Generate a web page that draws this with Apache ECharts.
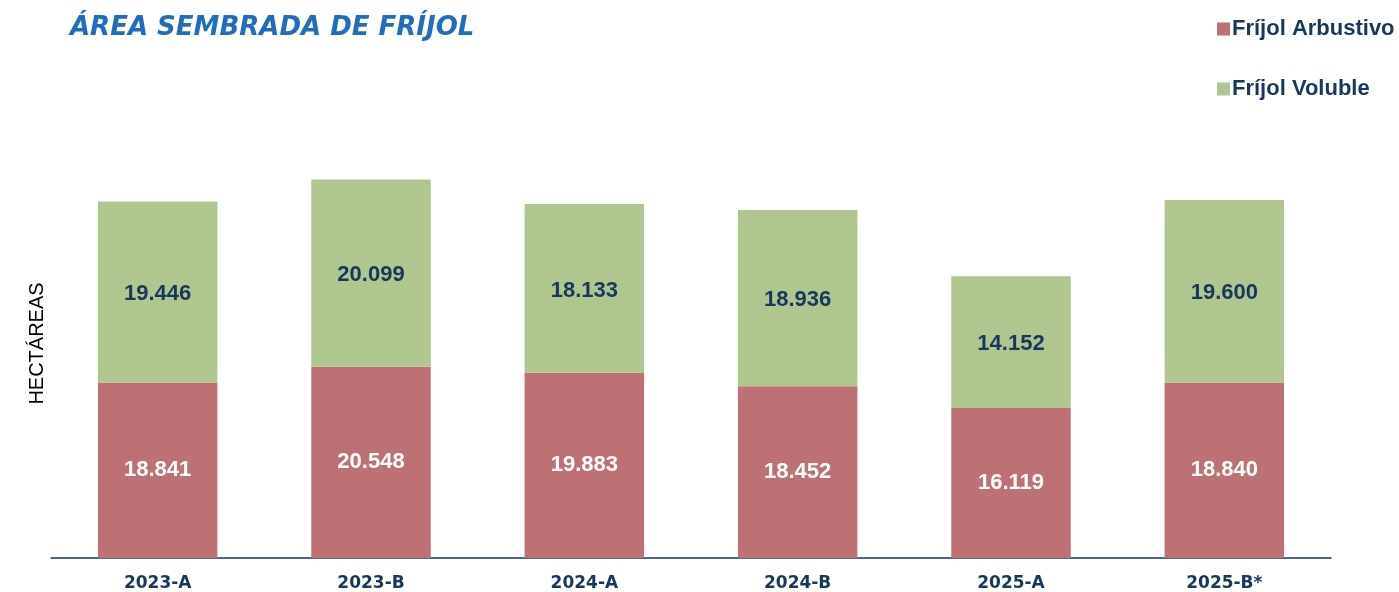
<!DOCTYPE html>
<html lang="es">
<head>
    <meta charset="UTF-8">
    <title>Área sembrada de fríjol</title>
    <script src="https://cdn.jsdelivr.net/npm/echarts@6/dist/echarts.min.js"></script>
    <style>
        html, body { margin: 0; padding: 0; background: #fff; }
        #main { width: 1399px; height: 592px; }
    </style>
</head>
<body>
<div id="main"></div>
<script>
    // datos
    var periodos = ['2023-A', '2023-B', '2024-A', '2024-B', '2025-A', '2025-B*'];
    var arbustivo = [18841, 20548, 19883, 18452, 16119, 18840];
    var voluble = [19446, 20099, 18133, 18936, 14152, 19600];

    var azulOscuro = '#17375E';

    // formato con punto de miles
    function miles(v) {
        return String(v).replace(/\B(?=(\d{3})+(?!\d))/g, '.');
    }

    var chart = echarts.init(document.getElementById('main'));
    var option = {
        animation: false,
        title: {
            text: 'ÁREA SEMBRADA DE FRÍJOL',
            left: 65,
            top: 10,
            textStyle: {
                fontFamily: 'DejaVu Sans',
                fontStyle: 'italic',
                fontWeight: 'bold',
                fontSize: 26,
                color: '#1F6DBF'
            }
        },
        legend: {
            orient: 'vertical',
            left: 1212,
            top: 13,
            itemWidth: 13,
            itemHeight: 13,
            itemGap: 38,
            icon: 'rect',
            textStyle: {
                fontFamily: 'Liberation Sans',
                fontWeight: 'bold',
                fontSize: 22,
                color: azulOscuro,
                padding: [0, 0, 0, -3]
            },
            data: ['Fríjol Arbustivo', 'Fríjol Voluble']
        },
        grid: {
            left: 51,
            right: 68,
            top: 139,
            bottom: 34
        },
        xAxis: {
            type: 'category',
            data: periodos,
            axisLine: { lineStyle: { color: azulOscuro, width: 1.5 } },
            axisTick: { show: false },
            axisLabel: {
                margin: 17,
                fontFamily: 'DejaVu Sans',
                fontWeight: 'bold',
                fontSize: 17,
                color: azulOscuro
            }
        },
        yAxis: {
            type: 'value',
            min: 0,
            max: 45000,
            name: 'HECTÁREAS',
            nameLocation: 'middle',
            nameRotate: 90,
            nameGap: 4,
            nameTextStyle: {
                fontFamily: 'Liberation Sans',
                fontSize: 20,
                color: '#000',
                padding: [0, 0, 0, 10]
            },
            axisLine: { show: false },
            axisTick: { show: false },
            axisLabel: { show: false },
            splitLine: { show: false }
        },
        series: [
            {
                name: 'Fríjol Arbustivo',
                type: 'bar',
                stack: 'total',
                barWidth: '56%',
                data: arbustivo,
                itemStyle: { color: '#BE7174' },
                label: {
                    show: true,
                    position: 'inside',
                    formatter: function (p) { return miles(p.value); },
                    fontFamily: 'Liberation Sans',
                    fontWeight: 'bold',
                    fontSize: 22,
                    color: '#fff'
                }
            },
            {
                name: 'Fríjol Voluble',
                type: 'bar',
                stack: 'total',
                barWidth: '56%',
                data: voluble,
                itemStyle: { color: '#AFC68E' },
                label: {
                    show: true,
                    position: 'inside',
                    offset: [0, 2],
                    formatter: function (p) { return miles(p.value); },
                    fontFamily: 'Liberation Sans',
                    fontWeight: 'bold',
                    fontSize: 22,
                    color: azulOscuro
                }
            }
        ]
    };
    chart.setOption(option);
</script>
</body>
</html>
